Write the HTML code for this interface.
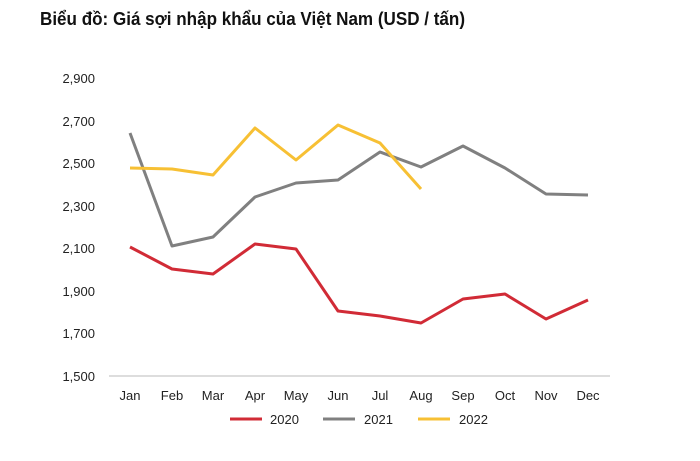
<!DOCTYPE html>
<html><head><meta charset="utf-8"><style>
body{margin:0;background:#fff;width:700px;height:456px;overflow:hidden}
</style></head><body>
<svg width="700" height="456" xmlns="http://www.w3.org/2000/svg" font-family="Liberation Sans, sans-serif">
<text x="40" y="25" font-size="18" font-weight="bold" fill="#111" textLength="425" lengthAdjust="spacingAndGlyphs">Biểu đồ: Giá sợi nhập khẩu của Việt Nam (USD / tấn)</text>
<g font-size="13" fill="#222" text-anchor="end">
<text x="95" y="83">2,900</text><text x="95" y="126">2,700</text><text x="95" y="168">2,500</text><text x="95" y="211">2,300</text><text x="95" y="253">2,100</text><text x="95" y="296">1,900</text><text x="95" y="338">1,700</text><text x="95" y="381">1,500</text>
</g>
<line x1="109" y1="376" x2="610" y2="376" stroke="#bbb" stroke-width="1"/>
<g font-size="13" fill="#222" text-anchor="middle">
<text x="130" y="400">Jan</text><text x="172" y="400">Feb</text><text x="213" y="400">Mar</text><text x="255" y="400">Apr</text><text x="296" y="400">May</text><text x="338" y="400">Jun</text><text x="380" y="400">Jul</text><text x="421" y="400">Aug</text><text x="463" y="400">Sep</text><text x="505" y="400">Oct</text><text x="546" y="400">Nov</text><text x="588" y="400">Dec</text>
</g>
<g fill="none" stroke-width="3" stroke-linejoin="round">
<polyline stroke="#d12b36" points="130,247 172,269 213,274 255,244 296,249 338,311 380,316 421,323 463,299 505,294 546,319 588,300"/>
<polyline stroke="#808080" points="130,133 172,246 213,237 255,197 296,183 338,180 380,152 421,167 463,146 505,168 546,194 588,195"/>
<polyline stroke="#f7c034" points="130,168 172,169 213,175 255,128 296,160 338,125 380,143 421,189"/>
</g>
<g stroke-width="3">
<line x1="230" y1="419" x2="262" y2="419" stroke="#d12b36"/>
<line x1="323" y1="419" x2="355" y2="419" stroke="#808080"/>
<line x1="418" y1="419" x2="450" y2="419" stroke="#f7c034"/>
</g>
<g font-size="13" fill="#222">
<text x="270" y="424">2020</text><text x="364" y="424">2021</text><text x="459" y="424">2022</text>
</g>
</svg>
</body></html>
